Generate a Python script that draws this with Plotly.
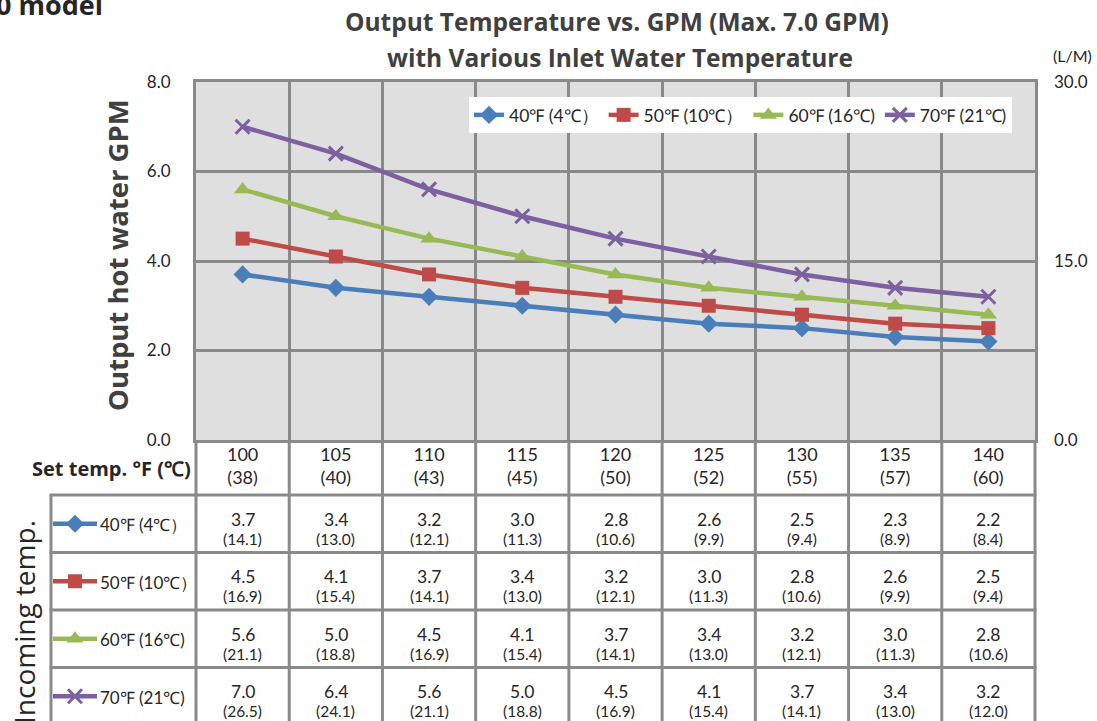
import plotly.graph_objects as go

# set temperatures (header row)
set_f = ["100", "105", "110", "115", "120", "125", "130", "135", "140"]
set_c = ["38", "40", "43", "45", "50", "52", "55", "57", "60"]

# incoming water temperatures
inlet_names = ["40℉ (4℃）", "50℉ (10℃）", "60℉ (16℃)", "70℉ (21℃)"]

# output GPM per inlet temperature
gpm_40 = [3.7, 3.4, 3.2, 3.0, 2.8, 2.6, 2.5, 2.3, 2.2]
gpm_50 = [4.5, 4.1, 3.7, 3.4, 3.2, 3.0, 2.8, 2.6, 2.5]
gpm_60 = [5.6, 5.0, 4.5, 4.1, 3.7, 3.4, 3.2, 3.0, 2.8]
gpm_70 = [7.0, 6.4, 5.6, 5.0, 4.5, 4.1, 3.7, 3.4, 3.2]

# same in litres per minute
lpm_40 = [14.1, 13.0, 12.1, 11.3, 10.6, 9.9, 9.4, 8.9, 8.4]
lpm_50 = [16.9, 15.4, 14.1, 13.0, 12.1, 11.3, 10.6, 9.9, 9.4]
lpm_60 = [21.1, 18.8, 16.9, 15.4, 14.1, 13.0, 12.1, 11.3, 10.6]
lpm_70 = [26.5, 24.1, 21.1, 18.8, 16.9, 15.4, 14.1, 13.0, 12.0]

gpm_rows = [gpm_40, gpm_50, gpm_60, gpm_70]
lpm_rows = [lpm_40, lpm_50, lpm_60, lpm_70]

colors = ["#4A7EBB", "#BE4B48", "#98B954", "#7D60A0"]
symbols = ["diamond", "square", "triangle-up", "x-thin"]
sizes = [14, 14, 15, 14]

W, H = 1097, 721
GRID = "#8a8a8a"
TXT = "#262626"
NUM_FONT = "Lato"
BOLD_FONT = "Open Sans"


def px(x):
    return x / W


def py(y):
    return 1 - y / H


# plot area and table geometry (pixels)
left, right, top, bottom = 196, 1035, 82, 440
tab_left, row_top, row_h = 51, 495, 57.5

fig = go.Figure()

for name, vals, c, s, sz in zip(inlet_names, gpm_rows, colors, symbols, sizes):
    fig.add_trace(go.Scatter(
        x=set_f, y=vals, name=name, mode="lines+markers",
        line=dict(color=c, width=4.5),
        marker=dict(symbol=s, size=sz, color=c, line=dict(color=c, width=3 if s == "x-thin" else 0)),
    ))

# empty trace so the right (L/M) axis is drawn
fig.add_trace(go.Scatter(x=[], y=[], yaxis="y2", showlegend=False, hoverinfo="skip"))

# legend samples in the table's left column
for k, (name, c, s, sz) in enumerate(zip(inlet_names, colors, symbols, sizes)):
    fig.add_trace(go.Scatter(
        x=[2, 24, 46], y=[k, k, k], xaxis="x3", yaxis="y3", mode="lines+markers",
        line=dict(color=c, width=4.5), showlegend=False, hoverinfo="skip",
        marker=dict(symbol=s, size=sz, color=c, opacity=[0, 1, 0],
                    line=dict(color=c, width=3 if s == "x-thin" else 0)),
    ))
    fig.add_annotation(x=47, y=k + 0.02, xref="x3", yref="y3", text=name, showarrow=False,
                       xanchor="left", yanchor="middle", font=dict(family=NUM_FONT, size=17, color=TXT))

# table cells (x given as category index)
for k, (g_row, l_row) in enumerate(zip(gpm_rows, lpm_rows)):
    for i, (g, l) in enumerate(zip(g_row, l_row)):
        fig.add_annotation(x=i, y=k - 0.08, xref="x", yref="y3", text=f"{g:.1f}", showarrow=False,
                           font=dict(family=NUM_FONT, size=17.5, color=TXT))
        fig.add_annotation(x=i, y=k + 0.26, xref="x", yref="y3", text=f"({l:.1f})", showarrow=False,
                           font=dict(family=NUM_FONT, size=15.5, color=TXT))

# plot background
fig.add_shape(type="rect", xref="paper", yref="paper", x0=px(left), x1=px(right), y0=py(bottom),
              y1=py(top), fillcolor="#dfdfdf", line=dict(width=0), layer="below")

# table grid lines
cell_w = (right - left) / 9
for i in range(10):
    xx = px(left + i * cell_w)
    fig.add_shape(type="line", xref="paper", yref="paper", x0=xx, x1=xx, y0=py(bottom), y1=py(730),
                  line=dict(color=GRID, width=3))
fig.add_shape(type="line", xref="paper", yref="paper", x0=px(tab_left), x1=px(tab_left),
              y0=py(row_top), y1=py(730), line=dict(color=GRID, width=3))
for k in range(4):
    yy = py(row_top + k * row_h)
    fig.add_shape(type="line", xref="paper", yref="paper", x0=px(tab_left - 1.5), x1=px(right + 1.5),
                  y0=yy, y1=yy, line=dict(color=GRID, width=3))


def label(text, x, y, size, family=BOLD_FONT, color=TXT, xanchor="center", angle=0):
    fig.add_annotation(x=px(x), y=py(y), xref="paper", yref="paper", text=text, showarrow=False,
                       xanchor=xanchor, yanchor="middle", textangle=angle,
                       font=dict(family=family, size=size, color=color))


label("<b>0 model</b>", 105, 5, 27, xanchor="right")
label("<b>Output Temperature vs. GPM (Max. 7.0 GPM)</b>", 617, 22, 24.5, color="#404040")
label("<b>with Various Inlet Water Temperature</b>", 620, 58, 24.5, color="#404040")
label("<b>Output hot water GPM</b>", 117, 255, 27.5, color="#404040", angle=-90)
label("(L/M)", 1072, 56, 16, family=NUM_FONT)
label("<b>Set temp. °F (℃)</b>", 193, 468, 20, xanchor="right")
label("Incoming temp.", 24, 622, 28, angle=-90)

fig.update_layout(
    width=W, height=H,
    margin=dict(l=0, r=0, t=0, b=0, autoexpand=False),
    paper_bgcolor="white", plot_bgcolor="rgba(0,0,0,0)",
    font=dict(family=NUM_FONT, size=17, color=TXT),
    legend=dict(orientation="h", x=px(1012), xanchor="right", y=py(97), yanchor="top",
                bgcolor="white", font=dict(family=NUM_FONT, size=17.5, color=TXT),
                itemwidth=30, tracegroupgap=0),
    xaxis=dict(domain=[px(left), px(right)], type="category", range=[-0.5, 8.5], automargin=False,
               tickvals=set_f, ticktext=[f"{f}<br>({c})" for f, c in zip(set_f, set_c)],
               tickson="boundaries", ticks="", showgrid=True, gridcolor=GRID, gridwidth=3,
               showline=True, mirror=True, linecolor=GRID, linewidth=3, ticklabelstandoff=-4,
               tickfont=dict(family=NUM_FONT, size=18, color=TXT), anchor="y"),
    yaxis=dict(domain=[py(bottom), py(top)], range=[0, 8], dtick=2, tickformat=".1f", automargin=False,
               showgrid=True, gridcolor=GRID, gridwidth=2.5, zeroline=False,
               showline=True, mirror=True, linecolor=GRID, linewidth=3, ticks="",
               ticklabelstandoff=19, tickfont=dict(family=NUM_FONT, size=17, color=TXT), anchor="x"),
    yaxis2=dict(overlaying="y", side="right", anchor="x", range=[0, 30], tickvals=[0, 15, 30],
                tickformat=".1f", showgrid=False, zeroline=False, showline=False, ticks="", automargin=False,
                ticklabelstandoff=18, tickfont=dict(family=NUM_FONT, size=17, color=TXT)),
    xaxis3=dict(domain=[px(tab_left), px(left)], range=[0, left - tab_left], visible=False,
                anchor="y3", fixedrange=True, automargin=False),
    yaxis3=dict(domain=[0, py(row_top)], range=[(H - row_top) / row_h - 0.5, -0.5], visible=False,
                anchor="x3", fixedrange=True, automargin=False),
)

# drop the default page margin so the figure sits at the window's corner
fig.write_html("out.html", config={"displayModeBar": False},
               post_script="document.body.style.margin='0';")
